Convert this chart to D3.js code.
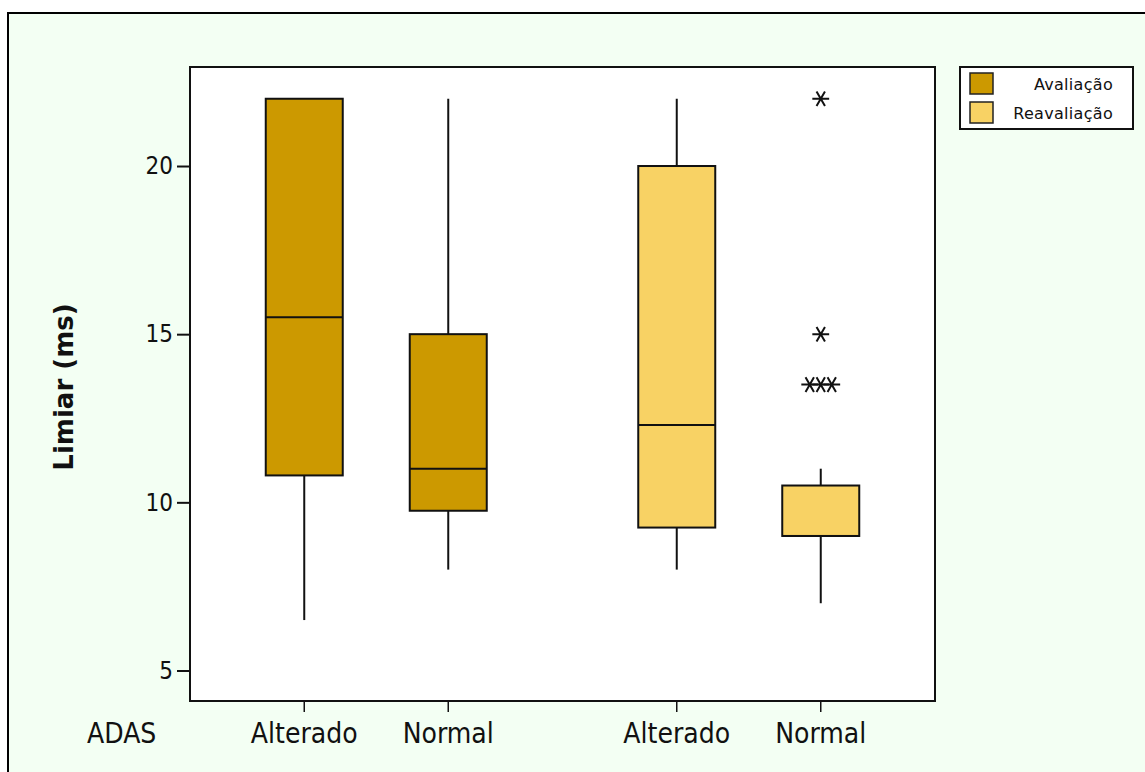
<!DOCTYPE html>
<html>
<head>
<meta charset="utf-8">
<script src="https://cdn.jsdelivr.net/npm/d3@7"></script>
<style>
  html, body { margin: 0; padding: 0; background: #ffffff; }
  svg { display: block; }
</style>
</head>
<body>
<svg id="chart" width="1145" height="772"></svg>
<script>
// ---------- data ----------
const groups = ["Avaliação", "Reavaliação"];
const categories = ["Alterado", "Normal"];
const groupColors = ["#CC9900", "#F8D264"];
// one entry per box
const boxGroup    = ["Avaliação", "Avaliação", "Reavaliação", "Reavaliação"];
const boxCategory = ["Alterado", "Normal", "Alterado", "Normal"];
const whiskerLow  = [6.5, 8, 8, 7];
const q1Values    = [10.8, 9.75, 9.25, 9];
const medians     = [15.5, 11, 12.3, 9];
const q3Values    = [22, 15, 20, 10.5];
const whiskerHigh = [22, 22, 22, 11];
// outliers (Reavaliação / Normal)
const outlierGroup    = ["Reavaliação", "Reavaliação", "Reavaliação", "Reavaliação", "Reavaliação"];
const outlierCategory = ["Normal", "Normal", "Normal", "Normal", "Normal"];
const outlierValues   = [22, 15, 13.5, 13.5, 13.5];
const outlierJitter   = [0, 0, -1, 0, 1];
const yTicks = [5, 10, 15, 20];
const axisCaption = "ADAS";
const yTitle = "Limiar (ms)";

// ---------- layout ----------
const svg = d3.select("#chart");
const W = 1145, H = 772;
const plot = { left: 190, top: 67, right: 935, bottom: 701 };

svg.append("rect").attr("x", 0).attr("y", 0).attr("width", W).attr("height", H).attr("fill", "#ffffff");
// outer panel (extends beyond right/bottom)
svg.append("rect").attr("x", 8).attr("y", 13).attr("width", W + 20).attr("height", H + 20)
  .attr("fill", "#F3FFF3").attr("stroke", "#000").attr("stroke-width", 2);

// plot area
svg.append("rect").attr("x", plot.left).attr("y", plot.top)
  .attr("width", plot.right - plot.left).attr("height", plot.bottom - plot.top)
  .attr("fill", "#ffffff");

const y = d3.scaleLinear().domain([4.093, 22.944]).range([plot.bottom, plot.top]);
const xGroup = d3.scaleBand().domain(groups).range([plot.left, plot.right]).padding(0);
const xSub = d3.scalePoint().domain(categories).range([-72, 72]);
const boxW = 77;
const cx = (g, c) => xGroup(g) + xGroup.bandwidth() / 2 + xSub(c);
const colorOf = d3.scaleOrdinal().domain(groups).range(groupColors);

const condensed = "'DejaVu Sans Condensed', 'DejaVu Sans', sans-serif";

// boxes
const boxes = boxGroup.map((g, i) => ({
  g, c: boxCategory[i], lo: whiskerLow[i], q1: q1Values[i], med: medians[i], q3: q3Values[i], hi: whiskerHigh[i]
}));
const bg = svg.append("g");
boxes.forEach(b => {
  const x0 = cx(b.g, b.c);
  if (b.hi > b.q3) bg.append("line").attr("x1", x0).attr("x2", x0).attr("y1", y(b.q3)).attr("y2", y(b.hi))
    .attr("stroke", "#111").attr("stroke-width", 2);
  if (b.lo < b.q1) bg.append("line").attr("x1", x0).attr("x2", x0).attr("y1", y(b.q1)).attr("y2", y(b.lo))
    .attr("stroke", "#111").attr("stroke-width", 2);
  bg.append("rect").attr("x", x0 - boxW / 2).attr("y", y(b.q3))
    .attr("width", boxW).attr("height", y(b.q1) - y(b.q3))
    .attr("fill", colorOf(b.g)).attr("stroke", "#111").attr("stroke-width", 2);
  bg.append("line").attr("x1", x0 - boxW / 2).attr("x2", x0 + boxW / 2)
    .attr("y1", y(b.med)).attr("y2", y(b.med)).attr("stroke", "#111").attr("stroke-width", 2);
});

// outliers
const star = d3.symbol().type(d3.symbolAsterisk).size(200);
outlierValues.forEach((v, i) => {
  const x0 = cx(outlierGroup[i], outlierCategory[i]) + outlierJitter[i] * 11;
  svg.append("path").attr("d", star())
    .attr("transform", `translate(${x0},${y(v)}) rotate(90)`)
    .attr("fill", "none").attr("stroke", "#111").attr("stroke-width", 2);
});

// plot frame
svg.append("rect").attr("x", plot.left).attr("y", plot.top)
  .attr("width", plot.right - plot.left).attr("height", plot.bottom - plot.top)
  .attr("fill", "none").attr("stroke", "#111").attr("stroke-width", 2);

// y axis
const yAxis = d3.axisLeft(y).tickValues(yTicks).tickSize(13).tickPadding(4).tickFormat(d3.format("d"));
const ya = svg.append("g").attr("transform", `translate(${plot.left},0)`).call(yAxis);
ya.select(".domain").remove();
ya.selectAll(".tick line").attr("stroke", "#111").attr("stroke-width", 2);
ya.selectAll(".tick text").attr("font-family", condensed).attr("font-size", 24).attr("fill", "#111");

// x axis ticks & labels
const xa = svg.append("g");
boxes.forEach(k => {
  const x0 = cx(k.g, k.c);
  xa.append("line").attr("x1", x0).attr("x2", x0).attr("y1", plot.bottom).attr("y2", plot.bottom + 11)
    .attr("stroke", "#111").attr("stroke-width", 1.5);
  xa.append("text").attr("x", x0).attr("y", 743).attr("text-anchor", "middle")
    .attr("font-family", condensed).attr("font-size", 28).attr("fill", "#111").text(k.c);
});
xa.append("text").attr("x", 87).attr("y", 743).attr("text-anchor", "start")
  .attr("font-family", condensed).attr("font-size", 28).attr("fill", "#111").text(axisCaption);

// y title
svg.append("text").attr("transform", "translate(64,387) rotate(-90)")
  .attr("text-anchor", "middle").attr("dominant-baseline", "central")
  .attr("font-family", "'DejaVu Sans', sans-serif").attr("font-weight", "bold").attr("font-size", 26)
  .attr("fill", "#111").text(yTitle);

// legend
const lg = svg.append("g");
lg.append("rect").attr("x", 960).attr("y", 67).attr("width", 173).attr("height", 62)
  .attr("fill", "#ffffff").attr("stroke", "#111").attr("stroke-width", 2);
groups.forEach((g, i) => {
  const yy = 73 + i * 29;
  lg.append("rect").attr("x", 970).attr("y", yy).attr("width", 23).attr("height", 21)
    .attr("fill", colorOf(g)).attr("stroke", "#222").attr("stroke-width", 1.5);
  lg.append("text").attr("x", 1113).attr("y", yy + 17).attr("text-anchor", "end")
    .attr("font-family", "'DejaVu Sans', sans-serif").attr("font-size", 16)
    .attr("letter-spacing", 0.3).attr("fill", "#111").text(g);
});
</script>
</body>
</html>
